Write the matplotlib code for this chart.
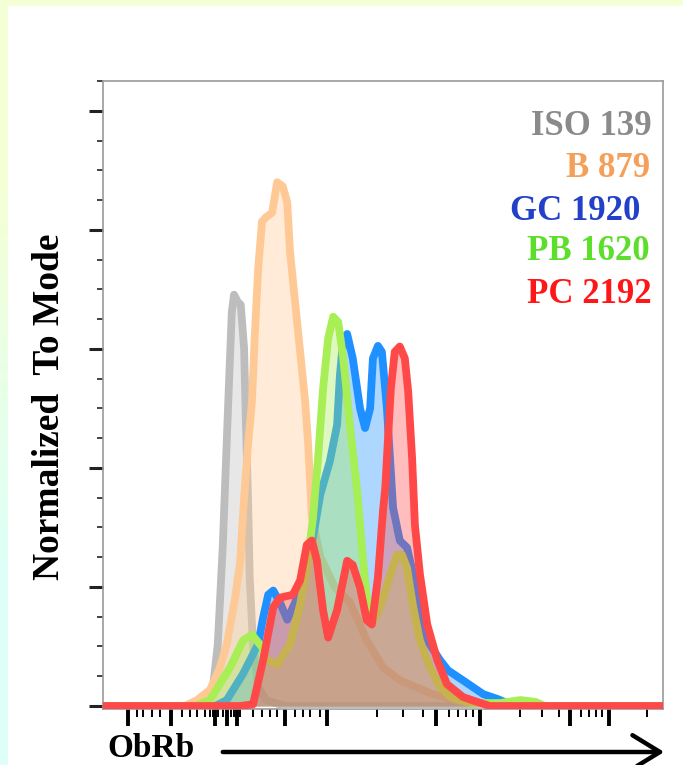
import numpy as np
import matplotlib
matplotlib.use("Agg")
import matplotlib.pyplot as plt
from matplotlib.patches import FancyArrowPatch, Rectangle

# histogram traces (x in channel units 0-1000, y in % of mode)
iso_x = [0, 180, 195, 205, 214, 223, 230, 234, 240, 246, 252, 255, 259, 262, 268, 277, 291, 325, 1000]
iso_y = [0, 0, 2.0, 10.4, 27.1, 49.5, 66.2, 69.1, 68.0, 67.4, 60.0, 48.3, 35.0, 21.6, 9.9, 3.2, 1.0, 0, 0]

b_x = [0, 146, 168, 191, 209, 221, 236, 245, 252, 259, 266, 271, 277, 284, 291, 302, 311, 321, 329, 334,
       343, 352, 361, 366, 373, 388, 414, 441, 471, 500, 530, 589, 638, 709, 1000]
b_y = [0, 0, 1.0, 2.7, 6.5, 10.4, 18.2, 24.4, 35.0, 43.8, 51.2, 62.2, 73.4, 81.4, 82.1, 82.9, 88.0, 87.3, 84.6, 76.3,
       67.9, 59.5, 51.2, 44.5, 31.8, 25.1, 19.9, 17.4, 11.0, 6.5, 4.3, 2.0, 0.8, 0, 0]

gc_x = [0, 200, 221, 250, 277, 286, 295, 304, 316, 329, 343, 361, 375, 388, 405, 418, 423, 429, 436, 446,
        459, 468, 477, 482, 491, 498, 507, 518, 530, 543, 554, 566, 579, 602, 616, 643, 679, 704, 727, 745, 1000]
gc_y = [0, 0, 1.0, 5.4, 10.4, 14.9, 18.7, 19.4, 17.4, 14.5, 17.4, 23.2, 28.3, 35.5, 41.1, 47.2, 55.5, 61.7, 62.5, 58.4,
        50.0, 46.7, 50.0, 58.4, 60.5, 59.5, 50.0, 33.3, 27.8, 26.6, 22.1, 16.6, 11.0, 7.7, 6.0, 4.3, 2.0, 1.2, 0.3, 0, 0]

pb_x = [0, 164, 191, 227, 250, 266, 284, 293, 311, 334, 352, 364, 375, 384, 393, 402, 411, 420, 429, 441,
        454, 464, 473, 480, 495, 513, 525, 534, 543, 554, 566, 584, 602, 620, 655, 709, 745, 772, 789, 1000]
pb_y = [0, 0, 1.0, 6.5, 11.0, 12.0, 9.9, 7.7, 7.0, 10.4, 17.1, 23.2, 31.6, 41.6, 53.3, 61.7, 65.4, 64.5, 58.4, 47.2,
        36.1, 24.9, 16.6, 13.7, 16.6, 22.1, 25.4, 25.4, 23.2, 16.6, 11.0, 6.5, 3.2, 1.5, 0.5, 0.5, 1.0, 0.7, 0, 0]

pc_x = [0, 245, 268, 286, 304, 316, 339, 352, 364, 373, 382, 393, 402, 418, 436, 446, 459, 471, 480, 491,
        500, 504, 509, 514, 521, 530, 539, 545, 552, 557, 566, 579, 597, 614, 643, 668, 691, 1000]
pc_y = [0, 0, 0.3, 7.7, 16.6, 18.2, 18.7, 21.1, 27.1, 27.8, 24.4, 16.1, 11.5, 16.1, 24.4, 23.7, 19.9, 14.4, 13.7, 21.6,
        32.8, 36.6, 45.0, 53.3, 59.5, 60.4, 58.4, 52.8, 41.6, 30.4, 22.1, 13.7, 7.7, 3.7, 1.5, 0.7, 0, 0]

labels = ["ISO 139", "B 879", "GC 1920", "PB 1620", "PC 2192"]
line_colors = ["#BDBDBD", "#FFC995", "#1E90FF", "#A8EE55", "#FF4848"]
text_colors = ["#8A8A8A", "#F5A05A", "#2340C8", "#5BDF2A", "#FF1616"]

# biexponential-looking x ticks
x_major = [45, 121, 200, 221, 239, 325, 400, 595, 673, 834, 904]
x_minor = [61, 71, 88, 102, 141, 155, 168, 182, 191, 196, 205, 214, 229, 234, 245, 268, 284, 298, 311,
           343, 357, 370, 388, 489, 536, 572, 618, 634, 648, 661, 745, 784, 814, 854, 868, 880, 891, 972]

serif = ["Liberation Serif", "DejaVu Serif"]

fig = plt.figure(figsize=(6.83, 7.65), dpi=100)
fig.patch.set_facecolor("white")

# pale frame (top strip + left gradient strip)
fig.add_artist(Rectangle((0, 1 - 6 / 765), 1, 6 / 765, transform=fig.transFigure,
                         facecolor="#F4FFD6", edgecolor="none", zorder=0))
gax = fig.add_axes([0, 0, 8 / 683, 1])
grad = np.array([[[244, 255, 214]], [[222, 255, 248]]], dtype=float) / 255
gax.imshow(grad, aspect="auto", interpolation="bilinear")
gax.axis("off")

ax = fig.add_axes([103 / 683, 1 - 709 / 765, 560 / 683, 628 / 765])

series = [(iso_x, iso_y), (b_x, b_y), (gc_x, gc_y), (pb_x, pb_y), (pc_x, pc_y)]
for i, ((xs, ys), c) in enumerate(zip(series, line_colors)):
    ax.fill_between(xs, 0, ys, color=c, alpha=0.36, linewidth=0, zorder=2 + 2 * i)
    ax.plot(xs, ys, color=c, lw=5.6, solid_joinstyle="round", solid_capstyle="butt", zorder=3 + 2 * i)

ax.set_xlim(0, 1000)
ax.set_ylim(-0.5, 105)

ax.set_yticks([0, 20, 40, 60, 80, 100])
ax.set_yticks(np.arange(5, 106, 5), minor=True)
ax.set_xticks(x_major)
ax.set_xticks(x_minor, minor=True)
ax.set_xticklabels([])
ax.set_yticklabels([])
ax.tick_params(axis="y", which="major", direction="out", length=10, width=2.2, color="#222222")
ax.tick_params(axis="y", which="minor", direction="out", length=4.5, width=1.2, color="#222222")
ax.tick_params(axis="x", which="major", direction="out", length=12.5, width=2.8, color="black", pad=1)
ax.tick_params(axis="x", which="minor", direction="out", length=6, width=1.4, color="black")
for s in ax.spines.values():
    s.set_color("#9A9A9A")
    s.set_linewidth(1.2)

# legend-like labels
baselines = [135, 177, 220, 260, 303]
rights = [652, 650, 640, 650, 652]
for lab, col, yb, xr in zip(labels, text_colors, baselines, rights):
    fig.text(xr / 683, 1 - yb / 765, lab, color=col, ha="right", va="baseline",
             fontsize=25, fontweight="bold", family=serif)

fig.text(50 / 683, 1 - 407 / 765, "Normalized  To Mode", rotation=90, ha="center", va="center",
         fontsize=27, fontweight="bold", family=serif)
fig.text(107 / 683, 1 - 757 / 765, "ObRb", ha="left", va="baseline",
         fontsize=24, fontweight="bold", family=serif)

arrow = FancyArrowPatch((220 / 683, 13 / 765), (667 / 683, 13 / 765), transform=fig.transFigure,
                        arrowstyle="->,head_length=0.9,head_width=0.55", mutation_scale=22,
                        lw=3.2, color="black")
fig.add_artist(arrow)

fig.savefig("out.png", dpi=100)
